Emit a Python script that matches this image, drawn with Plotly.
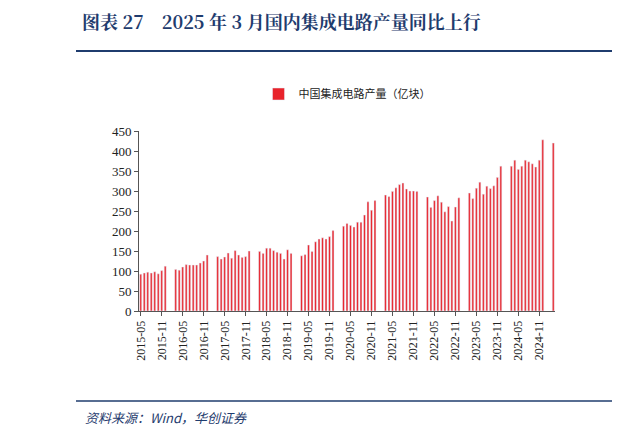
import plotly.graph_objects as go

vals = {
2015: [None]*4 + [92,95,97,95,98,93,101,112],
2016: [None,None,104,102,110,116,115,115,115,120,125,140],
2017: [None,None,136,130,135,145,132,151,140,134,136,150],
2018: [None,None,149,144,157,157,151,147,144,130,153,144],
2019: [None,None,138,141,165,149,173,180,183,180,186,201],
2020: [None,None,212,219,214,210,222,222,240,273,252,276],
2021: [None,None,290,286,299,308,316,320,305,300,300,299],
2022: [None,None,285,259,276,288,272,248,261,225,260,283],
2023: [None,None,295,281,307,322,292,312,306,313,334,362],
2024: [None,None,362,377,354,362,377,373,368,360,377,428],
2025: [None,None,420],
}
cats, ys = [], []
for yr, lst in vals.items():
    for m, v in enumerate(lst, 1):
        if yr == 2015 and m < 5:
            continue
        cats.append(f"{yr}-{m:02d}")
        ys.append(v)
ticks = cats[::6]

L, R, T, B = 131, 73, 123, 135
pw = 620 - L - R
ph = 438 - T - B
def px(x): return (x - L) / pw
def py(y): return (312 - y) / ph

fig = go.Figure(go.Bar(x=cats, y=ys, name="中国集成电路产量（亿块）",
                       marker_color="#e8232b", width=0.55))
fig.update_layout(
    width=620, height=438, margin=dict(l=L, r=R, t=T, b=B),
    plot_bgcolor="white", paper_bgcolor="white",
    font=dict(family="Noto Sans CJK SC", size=12, color="#222"),
    showlegend=True,
    legend=dict(x=0.5, xanchor="center", y=py(95), yanchor="middle", orientation="h",
                font=dict(size=11)),
    xaxis=dict(type="category", tickmode="array", tickvals=ticks, ticktext=ticks,
               tickangle=-90, showline=True, linecolor="#555", ticks="outside",
               ticklen=4, tickcolor="#555", tickfont=dict(family="Times New Roman, Liberation Serif", size=12)),
    yaxis=dict(range=[0, 450], dtick=50, showline=True, linecolor="#555", ticks="outside",
               ticklen=4, tickcolor="#555", showgrid=False,
               tickfont=dict(family="Times New Roman, Liberation Serif", size=13)),
    shapes=[
        dict(type="line", xref="paper", yref="paper", x0=px(68), x1=px(612), y0=py(52), y1=py(52),
             line=dict(color="#1f3c6e", width=2)),
        dict(type="line", xref="paper", yref="paper", x0=px(68), x1=px(612), y0=py(402), y1=py(402),
             line=dict(color="#1f3c6e", width=1.5)),
    ],
)
fig.add_annotation(xref="paper", yref="paper", x=px(72), y=py(22), xanchor="left", yanchor="middle",
                   text="<b>图表 27    2025 年 3 月国内集成电路产量同比上行</b>", showarrow=False,
                   font=dict(size=18, color="#1f3c6e", family="Noto Serif CJK SC, Noto Sans CJK SC"))
fig.add_annotation(xref="paper", yref="paper", x=px(75), y=py(418), xanchor="left", yanchor="middle",
                   text="<i>资料来源：Wind，华创证券</i>", showarrow=False,
                   font=dict(size=13, color="#1f3c6e"))
fig.write_html("out.html")
